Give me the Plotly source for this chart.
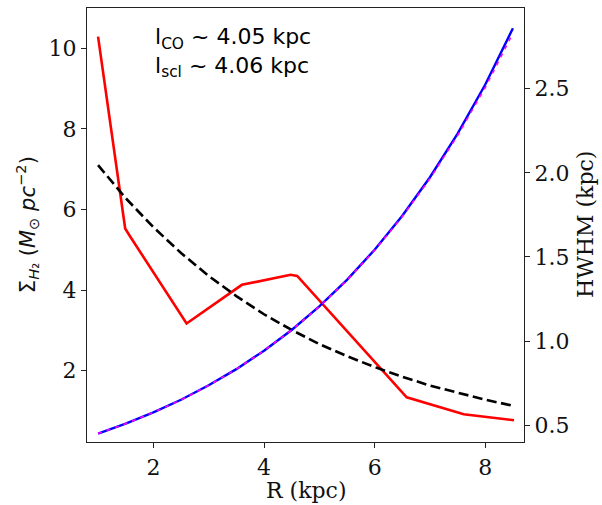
import plotly.graph_objects as go

# Observed surface density profile (red)
r_obs = [1.0, 1.49, 1.58, 2.6, 3.6, 4.48, 4.6, 6.58, 7.61, 8.52]
sigma_obs = [10.29, 5.53, 5.33, 3.17, 4.13, 4.38, 4.35, 1.34, 0.92, 0.77]

# Exponential fit (black dashed)
r_fit = [1.0, 1.5, 2.0, 2.5, 3.0, 3.5, 4.0, 4.5, 5.0, 5.5, 6.0, 6.5, 7.0, 7.5, 8.0, 8.5]
sigma_fit = [7.10, 6.28, 5.56, 4.92, 4.35, 3.85, 3.40, 3.01, 2.66, 2.36, 2.09, 1.85, 1.63, 1.45, 1.28, 1.13]

# HWHM profile (blue) and its fit (magenta dashed)
r_hw = [1.0, 1.5, 2.0, 2.5, 3.0, 3.5, 4.0, 4.5, 5.0, 5.5, 6.0, 6.5, 7.0, 7.5, 8.0, 8.5]
hwhm = [0.450, 0.509, 0.576, 0.651, 0.737, 0.833, 0.943, 1.066, 1.206, 1.364, 1.543, 1.745, 1.974, 2.233, 2.525, 2.860]
hwhm_fit = [0.450, 0.509, 0.576, 0.651, 0.737, 0.833, 0.943, 1.066, 1.205, 1.362, 1.540, 1.740, 1.966, 2.222, 2.508, 2.830]

x_ticks = [2, 4, 6, 8]
y_ticks = [2, 4, 6, 8, 10]
y2_ticks = [0.5, 1.0, 1.5, 2.0, 2.5]
y2_ticktext = ["0.5", "1.0", "1.5", "2.0", "2.5"]

serif = "DejaVu Serif"
sans = "DejaVu Sans"

fig = go.Figure()
fig.add_trace(go.Scatter(x=r_obs, y=sigma_obs, mode="lines",
                         line=dict(color="red", width=2.6), showlegend=False))
fig.add_trace(go.Scatter(x=r_fit, y=sigma_fit, mode="lines",
                         line=dict(color="black", width=2.6, dash="10px,4.5px"), showlegend=False))
fig.add_trace(go.Scatter(x=r_hw, y=hwhm, mode="lines", yaxis="y2",
                         line=dict(color="blue", width=2.4), showlegend=False))
fig.add_trace(go.Scatter(x=r_hw, y=hwhm_fit, mode="lines", yaxis="y2",
                         line=dict(color="magenta", width=1.6, dash="4px,5px"), showlegend=False))

axis_common = dict(showgrid=False, zeroline=False, showline=True, linecolor="#222",
                   linewidth=1.3, ticks="outside", ticklen=5, tickwidth=1.2, tickcolor="#222",
                   automargin=False,
                   tickfont=dict(family=serif, size=22, color="#111"))

fig.update_layout(
    width=602, height=505,
    margin=dict(l=87, r=78, t=8, b=63),
    paper_bgcolor="white", plot_bgcolor="white",
    xaxis=dict(range=[0.8, 8.7], tickvals=x_ticks, mirror=True, **axis_common),
    yaxis=dict(range=[0.23, 11.0], tickvals=y_ticks, **axis_common),
    yaxis2=dict(range=[0.40, 2.98], tickvals=y2_ticks, ticktext=y2_ticktext,
                overlaying="y", side="right", **axis_common),
    annotations=[
        dict(x=0.151, y=0.967, xref="paper", yref="paper", xanchor="left", yanchor="top",
             text="l<sub>CO</sub> ~ 4.05 kpc<br>l<sub>scl</sub> ~ 4.06 kpc",
             showarrow=False, align="left",
             font=dict(family=sans, size=22, color="black")),
        dict(x=0.5, y=-0.1106, xref="paper", yref="paper", xanchor="center", yanchor="middle",
             text="R (kpc)", showarrow=False,
             font=dict(family=serif, size=22, color="#111")),
        dict(x=-0.137, y=0.5, xref="paper", yref="paper", xanchor="center", yanchor="middle",
             text="Σ<sub><i>H</i>₂</sub> (<i>M</i><sub>⊙</sub> <i>pc</i><sup>−2</sup>)",
             textangle=-90, showarrow=False,
             font=dict(family=sans, size=21, color="#111")),
        dict(x=1.1396, y=0.5, xref="paper", yref="paper", xanchor="center", yanchor="middle",
             text="HWHM (kpc)", textangle=-90, showarrow=False,
             font=dict(family=serif, size=22, color="#111")),
    ],
)

fig.write_html("out.html", config={"displayModeBar": False},
               post_script="document.body.style.margin='0';document.body.style.overflow='hidden';")
